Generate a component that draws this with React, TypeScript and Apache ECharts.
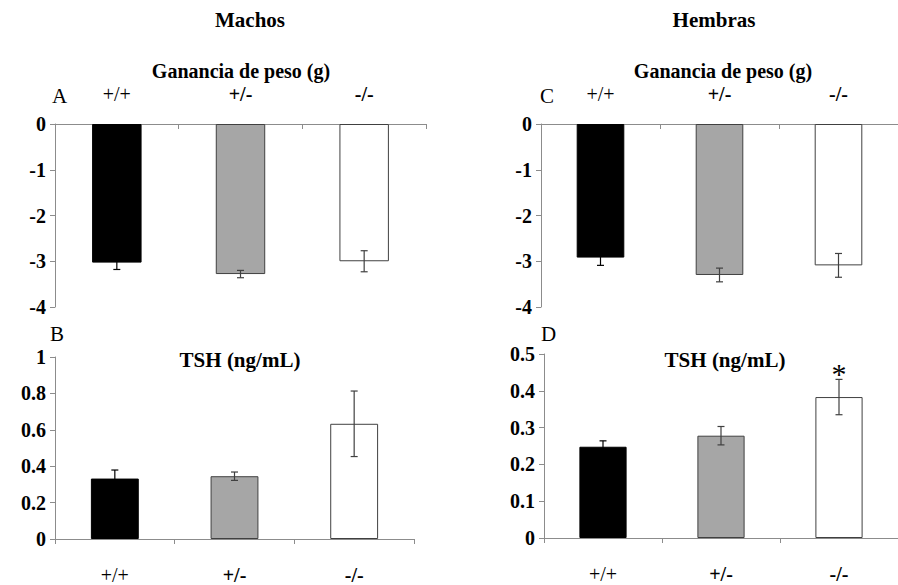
import React, { useEffect, useRef } from "react";
import * as echarts from "echarts";

const categories = ["+/+", "+/-", "-/-"];
const barColors = ["#000000", "#a6a6a6", "#ffffff"];

const weightMales = [-3.03, -3.28, -3.0];
const weightMalesErr = [0.15, 0.08, 0.23];
const weightFemales = [-2.92, -3.3, -3.09];
const weightFemalesErr = [0.17, 0.15, 0.26];
const tshMales = [0.332, 0.345, 0.633];
const tshMalesErr = [0.047, 0.023, 0.18];
const tshFemales = [0.248, 0.278, 0.383];
const tshFemalesErr = [0.016, 0.025, 0.048];
const tshFemalesSig = [false, false, true];

const FONT = "Liberation Serif";
const AXIS_COLOR = "#8c8c8c";

function barData(values: number[]) {
  return values.map((v, i) => ({
    value: v,
    itemStyle: {
      color: barColors[i],
      borderColor: i === 0 ? "#000000" : "#404040",
      borderWidth: 1,
    },
  }));
}

function errData(values: number[], errs: number[], sig?: boolean[]) {
  return values.map((v, i) => [i, v, errs[i], sig && sig[i] ? 1 : 0]);
}

function errorRender(params: any, api: any) {
  const idx = api.value(0);
  const mean = api.value(1);
  const err = api.value(2);
  const sig = api.value(3);
  const hi = api.coord([idx, mean + err]);
  const lo = api.coord([idx, mean - err]);
  const cap = 3.5;
  const style = { stroke: idx === 0 ? "#000000" : "#404040", lineWidth: 1.2 };
  const children: any[] = [
    { type: "line", shape: { x1: hi[0], y1: hi[1], x2: lo[0], y2: lo[1] }, style },
    { type: "line", shape: { x1: hi[0] - cap, y1: hi[1], x2: hi[0] + cap, y2: hi[1] }, style },
    { type: "line", shape: { x1: lo[0] - cap, y1: lo[1], x2: lo[0] + cap, y2: lo[1] }, style },
  ];
  if (sig) {
    children.push({
      type: "text",
      x: hi[0],
      y: hi[1] + 9,
      style: {
        text: "*",
        fontSize: 30,
        fontFamily: FONT,
        fill: "#000",
        align: "center",
        verticalAlign: "bottom",
      },
    });
  }
  return { type: "group", children };
}

function catLabelRich() {
  return {
    formatter: (v: string) => (v === "+/+" ? `{n|${v}}` : `{b|${v}}`),
    rich: {
      n: { fontFamily: FONT, fontSize: 20, color: "#000", fontWeight: "normal" },
      b: { fontFamily: FONT, fontSize: 20, color: "#000", fontWeight: "bold" },
    },
  };
}

function textEl(text: string, x: number, y: number, size: number, bold: boolean, align = "center") {
  return {
    type: "text",
    x,
    y,
    style: {
      text,
      fontSize: size,
      fontWeight: bold ? "bold" : "normal",
      fontFamily: FONT,
      fill: "#000",
      align,
      verticalAlign: "middle",
    },
  };
}

export default function App() {
  const ref = useRef<HTMLDivElement>(null);

  useEffect(() => {
    document.body.style.margin = "0";
    if (!ref.current) return;
    const chart = echarts.init(ref.current, undefined, { renderer: "svg" });

    const grids = [
      { left: 55, top: 124, width: 371, height: 183 },
      { left: 55, top: 357, width: 359, height: 183 },
      { left: 541, top: 124, width: 369, height: 183 },
      { left: 544, top: 354, width: 361, height: 184 },
    ];

    const xAxisBase = (gi: number, top: boolean) => ({
      type: "category",
      gridIndex: gi,
      data: categories,
      position: top ? "top" : "bottom",
      axisLine: { onZero: false, lineStyle: { color: AXIS_COLOR, width: 1 } },
      axisTick: { show: true, inside: top, length: 5, lineStyle: { color: AXIS_COLOR } },
      axisLabel: { margin: top ? 20 : 26, ...catLabelRich() },
      splitLine: { show: false },
    });

    const yAxisBase = (gi: number, min: number, max: number, interval: number) => ({
      type: "value",
      gridIndex: gi,
      min,
      max,
      interval,
      axisLine: { show: true, lineStyle: { color: AXIS_COLOR, width: 1 } },
      axisTick: { show: true, length: 5, lineStyle: { color: AXIS_COLOR } },
      axisLabel: {
        margin: 9,
        fontFamily: FONT,
        fontSize: 20,
        fontWeight: "bold",
        color: "#000",
        formatter: (v: number) => String(Math.round(v * 10) / 10),
      },
      splitLine: { show: false },
    });

    const panels = [
      { v: weightMales, e: weightMalesErr, s: undefined },
      { v: tshMales, e: tshMalesErr, s: undefined },
      { v: weightFemales, e: weightFemalesErr, s: undefined },
      { v: tshFemales, e: tshFemalesErr, s: tshFemalesSig },
    ];

    const series: any[] = [];
    panels.forEach((p, i) => {
      series.push({
        type: "bar",
        xAxisIndex: i,
        yAxisIndex: i,
        barWidth: "40%",
        data: barData(p.v),
      });
      series.push({
        type: "custom",
        xAxisIndex: i,
        yAxisIndex: i,
        renderItem: errorRender,
        data: errData(p.v, p.e, p.s),
        z: 5,
      });
    });

    chart.setOption({
      animation: false,
      backgroundColor: "#ffffff",
      textStyle: { fontFamily: FONT },
      grid: grids,
      xAxis: [xAxisBase(0, true), xAxisBase(1, false), xAxisBase(2, true), xAxisBase(3, false)],
      yAxis: [
        yAxisBase(0, -4, 0, 1),
        yAxisBase(1, 0, 1, 0.2),
        yAxisBase(2, -4, 0, 1),
        yAxisBase(3, 0, 0.5, 0.1),
      ],
      series,
      graphic: [
        textEl("Machos", 250, 20, 21, true),
        textEl("Hembras", 714, 20, 21, true),
        textEl("Ganancia de peso (g)", 241, 71, 20, true),
        textEl("Ganancia de peso (g)", 723, 71, 20, true),
        textEl("TSH (ng/mL)", 240, 360, 21, true),
        textEl("TSH (ng/mL)", 725, 360, 21, true),
        textEl("A", 52, 96, 21, false, "left"),
        textEl("B", 50, 334, 21, false, "left"),
        textEl("C", 540, 96, 21, false, "left"),
        textEl("D", 541, 334, 21, false, "left"),
      ],
    });

    return () => chart.dispose();
  }, []);

  return <div ref={ref} style={{ width: 898, height: 585 }} />;
}
